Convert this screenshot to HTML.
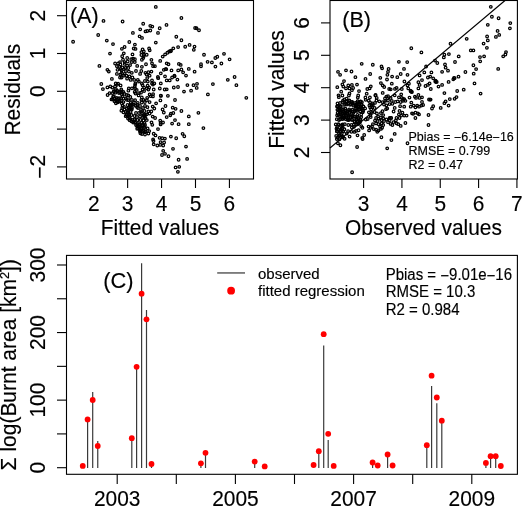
<!DOCTYPE html>
<html><head><meta charset="utf-8"><style>
html,body{margin:0;padding:0;background:#fff;}
svg{display:block;will-change:transform;}
text{font-family:"Liberation Sans", sans-serif;stroke:#000;stroke-width:0.15px;}
</style></head><body>
<svg width="522" height="507" viewBox="0 0 522 507">
<rect width="522" height="507" fill="#fff"/>
<rect x="66.5" y="0.5" width="187.0" height="178.5" fill="none" stroke="#000" stroke-width="1.1"/>
<line x1="93.7" y1="179.0" x2="93.7" y2="188" stroke="#000" stroke-width="1.1"/>
<text x="0" y="0" font-size="20.9" text-anchor="middle" fill="#000" transform="translate(93.7 211) scale(1 1.04)">2</text>
<line x1="127.63" y1="179.0" x2="127.63" y2="188" stroke="#000" stroke-width="1.1"/>
<text x="0" y="0" font-size="20.9" text-anchor="middle" fill="#000" transform="translate(127.63 211) scale(1 1.04)">3</text>
<line x1="161.56" y1="179.0" x2="161.56" y2="188" stroke="#000" stroke-width="1.1"/>
<text x="0" y="0" font-size="20.9" text-anchor="middle" fill="#000" transform="translate(161.56 211) scale(1 1.04)">4</text>
<line x1="195.49" y1="179.0" x2="195.49" y2="188" stroke="#000" stroke-width="1.1"/>
<text x="0" y="0" font-size="20.9" text-anchor="middle" fill="#000" transform="translate(195.49 211) scale(1 1.04)">5</text>
<line x1="229.42" y1="179.0" x2="229.42" y2="188" stroke="#000" stroke-width="1.1"/>
<text x="0" y="0" font-size="20.9" text-anchor="middle" fill="#000" transform="translate(229.42 211) scale(1 1.04)">6</text>
<line x1="57" y1="166.9" x2="66.5" y2="166.9" stroke="#000" stroke-width="1.1"/>
<text x="0" y="0" font-size="20.9" text-anchor="middle" fill="#000" transform="translate(45 166.9) rotate(-90) scale(1 1.04)"><tspan dy="1.57">&#8722;</tspan><tspan dy="-1.57">2</tspan></text>
<line x1="57" y1="129.1" x2="66.5" y2="129.1" stroke="#000" stroke-width="1.1"/>
<line x1="57" y1="91.3" x2="66.5" y2="91.3" stroke="#000" stroke-width="1.1"/>
<text x="0" y="0" font-size="20.9" text-anchor="middle" fill="#000" transform="translate(45 91.3) rotate(-90) scale(1 1.04)">0</text>
<line x1="57" y1="53.5" x2="66.5" y2="53.5" stroke="#000" stroke-width="1.1"/>
<text x="0" y="0" font-size="20.9" text-anchor="middle" fill="#000" transform="translate(45 53.5) rotate(-90) scale(1 1.04)">1</text>
<line x1="57" y1="15.7" x2="66.5" y2="15.7" stroke="#000" stroke-width="1.1"/>
<text x="0" y="0" font-size="20.9" text-anchor="middle" fill="#000" transform="translate(45 15.7) rotate(-90) scale(1 1.04)">2</text>
<text x="0" y="0" font-size="20.9" text-anchor="middle" fill="#000" transform="translate(160 235) scale(1 1.04)">Fitted values</text>
<text x="0" y="0" font-size="20.9" text-anchor="middle" fill="#000" transform="translate(20.1 89.7) rotate(-90) scale(1 1.04)">Residuals</text>
<text x="0" y="0" font-size="21.6" text-anchor="start" fill="#000" transform="translate(69.9 23) scale(1 1.04)">(A)</text>
<rect x="330.0" y="0.5" width="187.39999999999998" height="178.5" fill="none" stroke="#000" stroke-width="1.1"/>
<line x1="363.6" y1="179.0" x2="363.6" y2="188" stroke="#000" stroke-width="1.1"/>
<text x="0" y="0" font-size="20.9" text-anchor="middle" fill="#000" transform="translate(363.6 211) scale(1 1.04)">3</text>
<line x1="401.93" y1="179.0" x2="401.93" y2="188" stroke="#000" stroke-width="1.1"/>
<text x="0" y="0" font-size="20.9" text-anchor="middle" fill="#000" transform="translate(401.93 211) scale(1 1.04)">4</text>
<line x1="440.26" y1="179.0" x2="440.26" y2="188" stroke="#000" stroke-width="1.1"/>
<text x="0" y="0" font-size="20.9" text-anchor="middle" fill="#000" transform="translate(440.26 211) scale(1 1.04)">5</text>
<line x1="478.59" y1="179.0" x2="478.59" y2="188" stroke="#000" stroke-width="1.1"/>
<text x="0" y="0" font-size="20.9" text-anchor="middle" fill="#000" transform="translate(478.59 211) scale(1 1.04)">6</text>
<line x1="516.92" y1="179.0" x2="516.92" y2="188" stroke="#000" stroke-width="1.1"/>
<text x="0" y="0" font-size="20.9" text-anchor="middle" fill="#000" transform="translate(516.92 211) scale(1 1.04)">7</text>
<line x1="321" y1="152.5" x2="330.0" y2="152.5" stroke="#000" stroke-width="1.1"/>
<text x="0" y="0" font-size="20.9" text-anchor="middle" fill="#000" transform="translate(309 152.5) rotate(-90) scale(1 1.04)">2</text>
<line x1="321" y1="120.1" x2="330.0" y2="120.1" stroke="#000" stroke-width="1.1"/>
<text x="0" y="0" font-size="20.9" text-anchor="middle" fill="#000" transform="translate(309 120.1) rotate(-90) scale(1 1.04)">3</text>
<line x1="321" y1="87.7" x2="330.0" y2="87.7" stroke="#000" stroke-width="1.1"/>
<text x="0" y="0" font-size="20.9" text-anchor="middle" fill="#000" transform="translate(309 87.7) rotate(-90) scale(1 1.04)">4</text>
<line x1="321" y1="55.3" x2="330.0" y2="55.3" stroke="#000" stroke-width="1.1"/>
<text x="0" y="0" font-size="20.9" text-anchor="middle" fill="#000" transform="translate(309 55.3) rotate(-90) scale(1 1.04)">5</text>
<line x1="321" y1="22.9" x2="330.0" y2="22.9" stroke="#000" stroke-width="1.1"/>
<text x="0" y="0" font-size="20.9" text-anchor="middle" fill="#000" transform="translate(309 22.9) rotate(-90) scale(1 1.04)">6</text>
<text x="0" y="0" font-size="20.9" text-anchor="middle" fill="#000" transform="translate(423.5 235) scale(1 1.04)">Observed values</text>
<text x="0" y="0" font-size="20.9" text-anchor="middle" fill="#000" transform="translate(283.8 89.5) rotate(-90) scale(1 1.04)">Fitted values</text>
<text x="0" y="0" font-size="21.6" text-anchor="start" fill="#000" transform="translate(342.2 27.4) scale(1 1.05)">(B)</text>
<line x1="330" y1="148" x2="505" y2="0.5" stroke="#000" stroke-width="1.1"/>
<text x="0" y="0" font-size="12.5" text-anchor="start" fill="#000" transform="translate(408.5 140.6) scale(1 1.04)">Pbias = <tspan dy="0.94">&#8722;</tspan><tspan dy="-0.94">6.14e</tspan><tspan dy="0.94">&#8722;</tspan><tspan dy="-0.94">16</tspan></text>
<text x="0" y="0" font-size="12.5" text-anchor="start" fill="#000" transform="translate(408.5 154.6) scale(1 1.04)">RMSE = 0.799</text>
<text x="0" y="0" font-size="12.5" text-anchor="start" fill="#000" transform="translate(408.5 169) scale(1 1.04)">R2 = 0.47</text>
<rect x="66.5" y="255.4" width="450.9" height="218.9" fill="none" stroke="#000" stroke-width="1.1"/>
<line x1="117.2" y1="474.3" x2="117.2" y2="484" stroke="#000" stroke-width="1.1"/>
<text x="0" y="0" font-size="20.9" text-anchor="middle" fill="#000" transform="translate(117.2 506.4) scale(1 1.04)">2003</text>
<line x1="176.3" y1="474.3" x2="176.3" y2="484" stroke="#000" stroke-width="1.1"/>
<line x1="235.4" y1="474.3" x2="235.4" y2="484" stroke="#000" stroke-width="1.1"/>
<text x="0" y="0" font-size="20.9" text-anchor="middle" fill="#000" transform="translate(235.4 506.4) scale(1 1.04)">2005</text>
<line x1="294.5" y1="474.3" x2="294.5" y2="484" stroke="#000" stroke-width="1.1"/>
<line x1="353.6" y1="474.3" x2="353.6" y2="484" stroke="#000" stroke-width="1.1"/>
<text x="0" y="0" font-size="20.9" text-anchor="middle" fill="#000" transform="translate(353.6 506.4) scale(1 1.04)">2007</text>
<line x1="412.7" y1="474.3" x2="412.7" y2="484" stroke="#000" stroke-width="1.1"/>
<line x1="471.8" y1="474.3" x2="471.8" y2="484" stroke="#000" stroke-width="1.1"/>
<text x="0" y="0" font-size="20.9" text-anchor="middle" fill="#000" transform="translate(471.8 506.4) scale(1 1.04)">2009</text>
<line x1="57" y1="467.7" x2="66.5" y2="467.7" stroke="#000" stroke-width="1.1"/>
<text x="0" y="0" font-size="20.9" text-anchor="middle" fill="#000" transform="translate(45 467.7) rotate(-90) scale(1 1.04)">0</text>
<line x1="57" y1="433.91" x2="66.5" y2="433.91" stroke="#000" stroke-width="1.1"/>
<line x1="57" y1="400.13" x2="66.5" y2="400.13" stroke="#000" stroke-width="1.1"/>
<text x="0" y="0" font-size="20.9" text-anchor="middle" fill="#000" transform="translate(45 400.13) rotate(-90) scale(1 1.04)">100</text>
<line x1="57" y1="366.35" x2="66.5" y2="366.35" stroke="#000" stroke-width="1.1"/>
<line x1="57" y1="332.56" x2="66.5" y2="332.56" stroke="#000" stroke-width="1.1"/>
<text x="0" y="0" font-size="20.9" text-anchor="middle" fill="#000" transform="translate(45 332.56) rotate(-90) scale(1 1.04)">200</text>
<line x1="57" y1="298.77" x2="66.5" y2="298.77" stroke="#000" stroke-width="1.1"/>
<line x1="57" y1="264.99" x2="66.5" y2="264.99" stroke="#000" stroke-width="1.1"/>
<text x="0" y="0" font-size="20.9" text-anchor="middle" fill="#000" transform="translate(45 264.99) rotate(-90) scale(1 1.04)">300</text>
<line x1="87.6" y1="468" x2="87.6" y2="421" stroke="#3a3a3a" stroke-width="1.2"/>
<line x1="92.7" y1="468" x2="92.7" y2="392.1" stroke="#3a3a3a" stroke-width="1.2"/>
<line x1="97.75" y1="468" x2="97.75" y2="441" stroke="#3a3a3a" stroke-width="1.2"/>
<line x1="131.8" y1="468" x2="131.8" y2="439" stroke="#3a3a3a" stroke-width="1.2"/>
<line x1="136.6" y1="468" x2="136.6" y2="368" stroke="#3a3a3a" stroke-width="1.2"/>
<line x1="141.6" y1="468" x2="141.6" y2="263.3" stroke="#3a3a3a" stroke-width="1.2"/>
<line x1="146.5" y1="468" x2="146.5" y2="310" stroke="#3a3a3a" stroke-width="1.2"/>
<line x1="151.5" y1="468" x2="151.5" y2="465" stroke="#3a3a3a" stroke-width="1.2"/>
<line x1="200.9" y1="468" x2="200.9" y2="463" stroke="#3a3a3a" stroke-width="1.2"/>
<line x1="205.5" y1="468" x2="205.5" y2="453" stroke="#3a3a3a" stroke-width="1.2"/>
<line x1="254.7" y1="468" x2="254.7" y2="462" stroke="#3a3a3a" stroke-width="1.2"/>
<line x1="318.8" y1="468" x2="318.8" y2="451" stroke="#3a3a3a" stroke-width="1.2"/>
<line x1="323.7" y1="468" x2="323.7" y2="345.4" stroke="#3a3a3a" stroke-width="1.2"/>
<line x1="328.2" y1="468" x2="328.2" y2="440" stroke="#3a3a3a" stroke-width="1.2"/>
<line x1="372.6" y1="468" x2="372.6" y2="463" stroke="#3a3a3a" stroke-width="1.2"/>
<line x1="387.6" y1="468" x2="387.6" y2="455" stroke="#3a3a3a" stroke-width="1.2"/>
<line x1="426.8" y1="468" x2="426.8" y2="445" stroke="#3a3a3a" stroke-width="1.2"/>
<line x1="431.6" y1="468" x2="431.6" y2="386" stroke="#3a3a3a" stroke-width="1.2"/>
<line x1="436.8" y1="468" x2="436.8" y2="403.2" stroke="#3a3a3a" stroke-width="1.2"/>
<line x1="441.8" y1="468" x2="441.8" y2="421" stroke="#3a3a3a" stroke-width="1.2"/>
<line x1="485.9" y1="468" x2="485.9" y2="463" stroke="#3a3a3a" stroke-width="1.2"/>
<line x1="490.6" y1="468" x2="490.6" y2="456" stroke="#3a3a3a" stroke-width="1.2"/>
<line x1="495.7" y1="468" x2="495.7" y2="456" stroke="#3a3a3a" stroke-width="1.2"/>
<circle cx="82.75" cy="465.9" r="2.9" fill="#f00"/>
<circle cx="87.6" cy="419.4" r="2.9" fill="#f00"/>
<circle cx="92.7" cy="400" r="2.9" fill="#f00"/>
<circle cx="97.75" cy="446" r="2.9" fill="#f00"/>
<circle cx="131.8" cy="438.2" r="2.9" fill="#f00"/>
<circle cx="136.6" cy="366.8" r="2.9" fill="#f00"/>
<circle cx="141.6" cy="293.7" r="2.9" fill="#f00"/>
<circle cx="146.5" cy="319.3" r="2.9" fill="#f00"/>
<circle cx="151.5" cy="464" r="2.9" fill="#f00"/>
<circle cx="200.9" cy="463.3" r="2.9" fill="#f00"/>
<circle cx="205.5" cy="452.8" r="2.9" fill="#f00"/>
<circle cx="254.7" cy="461.6" r="2.9" fill="#f00"/>
<circle cx="264.7" cy="466.4" r="2.9" fill="#f00"/>
<circle cx="313.6" cy="465" r="2.9" fill="#f00"/>
<circle cx="318.8" cy="451.2" r="2.9" fill="#f00"/>
<circle cx="323.7" cy="334.2" r="2.9" fill="#f00"/>
<circle cx="328.2" cy="433.8" r="2.9" fill="#f00"/>
<circle cx="333.7" cy="465.9" r="2.9" fill="#f00"/>
<circle cx="372.6" cy="462.5" r="2.9" fill="#f00"/>
<circle cx="377.7" cy="465.5" r="2.9" fill="#f00"/>
<circle cx="387.6" cy="454.5" r="2.9" fill="#f00"/>
<circle cx="392.6" cy="465.5" r="2.9" fill="#f00"/>
<circle cx="426.8" cy="445.2" r="2.9" fill="#f00"/>
<circle cx="431.6" cy="375.7" r="2.9" fill="#f00"/>
<circle cx="436.8" cy="397.5" r="2.9" fill="#f00"/>
<circle cx="441.8" cy="420.7" r="2.9" fill="#f00"/>
<circle cx="485.9" cy="462.9" r="2.9" fill="#f00"/>
<circle cx="490.6" cy="456.2" r="2.9" fill="#f00"/>
<circle cx="495.7" cy="456.2" r="2.9" fill="#f00"/>
<circle cx="500.8" cy="466" r="2.9" fill="#f00"/>
<line x1="217.2" y1="272.95" x2="245" y2="272.95" stroke="#333" stroke-width="1.2"/>
<circle cx="231.1" cy="290.7" r="3.9" fill="#f00"/>
<text x="0" y="0" font-size="15" text-anchor="start" fill="#000" transform="translate(258 279) scale(1 1.0)">observed</text>
<text x="0" y="0" font-size="15" text-anchor="start" fill="#000" transform="translate(258 296.3) scale(1 1.0)">fitted regression</text>
<text x="0" y="0" font-size="15" text-anchor="start" fill="#000" transform="translate(385.7 280.2) scale(1 1.04)">Pbias = <tspan dy="1.12">&#8722;</tspan><tspan dy="-1.12">9.01e</tspan><tspan dy="1.12">&#8722;</tspan><tspan dy="-1.12">16</tspan></text>
<text x="0" y="0" font-size="15" text-anchor="start" fill="#000" transform="translate(385.7 297.2) scale(1 1.04)">RMSE = 10.3</text>
<text x="0" y="0" font-size="15" text-anchor="start" fill="#000" transform="translate(385.7 314.6) scale(1 1.04)">R2 = 0.984</text>
<text x="0" y="0" font-size="21.8" text-anchor="start" fill="#000" transform="translate(103.2 288) scale(1 1.05)">(C)</text>
<text x="0" y="0" font-size="21" text-anchor="middle" fill="#000" transform="translate(15.5 364.75) rotate(-90) scale(1 1.04)">&#931; log(Burnt area [km<tspan font-size="12.8" dy="-6">2</tspan><tspan dy="6">])</tspan></text>
<g fill="none" stroke="#000" stroke-width="1.25"><circle cx="177.9" cy="171.8" r="1.3"/><circle cx="103.5" cy="20.9" r="1.3"/><circle cx="122.6" cy="21.5" r="1.3"/><circle cx="98.2" cy="35.0" r="1.3"/><circle cx="73.1" cy="41.7" r="1.3"/><circle cx="106.8" cy="40.6" r="1.3"/><circle cx="113.0" cy="44.1" r="1.3"/><circle cx="110.0" cy="53.6" r="1.3"/><circle cx="121.9" cy="48.8" r="1.3"/><circle cx="124.6" cy="47.0" r="1.3"/><circle cx="123.8" cy="53.3" r="1.3"/><circle cx="122.2" cy="56.2" r="1.3"/><circle cx="155.8" cy="6.9" r="1.3"/><circle cx="181.4" cy="18.0" r="1.3"/><circle cx="143.2" cy="23.7" r="1.3"/><circle cx="150.3" cy="25.8" r="1.3"/><circle cx="152.3" cy="26.6" r="1.3"/><circle cx="159.7" cy="28.2" r="1.3"/><circle cx="166.5" cy="24.9" r="1.3"/><circle cx="140.2" cy="29.3" r="1.3"/><circle cx="132.9" cy="32.9" r="1.3"/><circle cx="145.5" cy="31.4" r="1.3"/><circle cx="147.3" cy="31.0" r="1.3"/><circle cx="150.3" cy="30.5" r="1.3"/><circle cx="158.0" cy="32.9" r="1.3"/><circle cx="139.6" cy="36.3" r="1.3"/><circle cx="142.0" cy="37.9" r="1.3"/><circle cx="176.3" cy="36.7" r="1.3"/><circle cx="181.4" cy="40.2" r="1.3"/><circle cx="129.3" cy="42.0" r="1.3"/><circle cx="134.9" cy="44.6" r="1.3"/><circle cx="155.8" cy="42.6" r="1.3"/><circle cx="133.7" cy="48.5" r="1.3"/><circle cx="135.5" cy="48.9" r="1.3"/><circle cx="142.6" cy="49.5" r="1.3"/><circle cx="143.8" cy="51.5" r="1.3"/><circle cx="141.4" cy="52.1" r="1.3"/><circle cx="149.1" cy="48.5" r="1.3"/><circle cx="149.7" cy="50.3" r="1.3"/><circle cx="132.5" cy="54.4" r="1.3"/><circle cx="141.4" cy="55.0" r="1.3"/><circle cx="143.8" cy="54.7" r="1.3"/><circle cx="146.7" cy="54.7" r="1.3"/><circle cx="143.2" cy="58.0" r="1.3"/><circle cx="173.3" cy="48.3" r="1.3"/><circle cx="171.0" cy="50.7" r="1.3"/><circle cx="169.2" cy="51.5" r="1.3"/><circle cx="167.4" cy="52.7" r="1.3"/><circle cx="165.1" cy="54.4" r="1.3"/><circle cx="162.7" cy="56.6" r="1.3"/><circle cx="178.1" cy="47.1" r="1.3"/><circle cx="185.2" cy="46.7" r="1.3"/><circle cx="127.2" cy="58.0" r="1.3"/><circle cx="133.1" cy="58.6" r="1.3"/><circle cx="134.9" cy="59.2" r="1.3"/><circle cx="151.4" cy="59.8" r="1.3"/><circle cx="195.1" cy="28.0" r="1.3"/><circle cx="199.0" cy="30.2" r="1.3"/><circle cx="189.6" cy="44.9" r="1.3"/><circle cx="194.5" cy="46.6" r="1.3"/><circle cx="193.8" cy="49.8" r="1.3"/><circle cx="204.0" cy="54.7" r="1.3"/><circle cx="215.3" cy="58.0" r="1.3"/><circle cx="217.3" cy="56.7" r="1.3"/><circle cx="224.0" cy="53.8" r="1.3"/><circle cx="229.6" cy="59.3" r="1.3"/><circle cx="99.4" cy="65.9" r="1.3"/><circle cx="107.4" cy="69.8" r="1.3"/><circle cx="108.8" cy="71.6" r="1.3"/><circle cx="111.9" cy="78.9" r="1.3"/><circle cx="101.3" cy="84.0" r="1.3"/><circle cx="102.9" cy="89.1" r="1.3"/><circle cx="115.7" cy="83.4" r="1.3"/><circle cx="118.1" cy="83.6" r="1.3"/><circle cx="115.1" cy="63.5" r="1.3"/><circle cx="118.1" cy="63.5" r="1.3"/><circle cx="120.4" cy="64.5" r="1.3"/><circle cx="116.9" cy="66.2" r="1.3"/><circle cx="119.3" cy="66.8" r="1.3"/><circle cx="117.5" cy="69.8" r="1.3"/><circle cx="121.6" cy="70.4" r="1.3"/><circle cx="124.0" cy="69.2" r="1.3"/><circle cx="124.6" cy="62.1" r="1.3"/><circle cx="116.9" cy="73.9" r="1.3"/><circle cx="120.4" cy="74.5" r="1.3"/><circle cx="121.6" cy="77.5" r="1.3"/><circle cx="124.0" cy="75.7" r="1.3"/><circle cx="143.7" cy="56.2" r="1.3"/><circle cx="123.0" cy="59.7" r="1.3"/><circle cx="127.7" cy="61.5" r="1.3"/><circle cx="131.2" cy="59.1" r="1.3"/><circle cx="134.8" cy="62.1" r="1.3"/><circle cx="131.8" cy="62.1" r="1.3"/><circle cx="141.9" cy="59.7" r="1.3"/><circle cx="160.2" cy="60.9" r="1.3"/><circle cx="166.7" cy="63.3" r="1.3"/><circle cx="168.5" cy="64.2" r="1.3"/><circle cx="178.9" cy="63.9" r="1.3"/><circle cx="152.0" cy="63.3" r="1.3"/><circle cx="153.1" cy="66.2" r="1.3"/><circle cx="154.9" cy="66.2" r="1.3"/><circle cx="146.0" cy="64.2" r="1.3"/><circle cx="141.9" cy="66.8" r="1.3"/><circle cx="137.2" cy="65.9" r="1.3"/><circle cx="120.0" cy="62.1" r="1.3"/><circle cx="124.7" cy="63.9" r="1.3"/><circle cx="127.1" cy="65.7" r="1.3"/><circle cx="130.1" cy="65.1" r="1.3"/><circle cx="128.3" cy="68.0" r="1.3"/><circle cx="125.3" cy="68.0" r="1.3"/><circle cx="122.4" cy="67.4" r="1.3"/><circle cx="120.6" cy="69.2" r="1.3"/><circle cx="125.9" cy="71.0" r="1.3"/><circle cx="128.9" cy="71.6" r="1.3"/><circle cx="131.8" cy="72.8" r="1.3"/><circle cx="124.7" cy="73.9" r="1.3"/><circle cx="121.8" cy="73.3" r="1.3"/><circle cx="136.0" cy="71.0" r="1.3"/><circle cx="141.3" cy="71.0" r="1.3"/><circle cx="145.4" cy="72.8" r="1.3"/><circle cx="148.4" cy="72.2" r="1.3"/><circle cx="151.4" cy="71.6" r="1.3"/><circle cx="146.6" cy="74.5" r="1.3"/><circle cx="149.6" cy="75.7" r="1.3"/><circle cx="140.1" cy="73.9" r="1.3"/><circle cx="160.8" cy="73.3" r="1.3"/><circle cx="163.8" cy="69.8" r="1.3"/><circle cx="166.2" cy="69.2" r="1.3"/><circle cx="171.5" cy="70.4" r="1.3"/><circle cx="178.2" cy="70.4" r="1.3"/><circle cx="172.1" cy="77.5" r="1.3"/><circle cx="174.4" cy="75.7" r="1.3"/><circle cx="165.0" cy="76.3" r="1.3"/><circle cx="157.9" cy="76.9" r="1.3"/><circle cx="126.5" cy="75.7" r="1.3"/><circle cx="129.5" cy="76.3" r="1.3"/><circle cx="132.4" cy="77.5" r="1.3"/><circle cx="120.0" cy="77.5" r="1.3"/><circle cx="127.1" cy="78.7" r="1.3"/><circle cx="130.7" cy="79.9" r="1.3"/><circle cx="134.2" cy="79.9" r="1.3"/><circle cx="137.8" cy="79.9" r="1.3"/><circle cx="138.9" cy="81.6" r="1.3"/><circle cx="147.2" cy="78.1" r="1.3"/><circle cx="152.0" cy="80.4" r="1.3"/><circle cx="154.3" cy="83.4" r="1.3"/><circle cx="152.0" cy="83.4" r="1.3"/><circle cx="144.9" cy="81.0" r="1.3"/><circle cx="147.8" cy="81.6" r="1.3"/><circle cx="166.7" cy="80.4" r="1.3"/><circle cx="169.7" cy="80.4" r="1.3"/><circle cx="177.4" cy="79.6" r="1.3"/><circle cx="135.4" cy="83.4" r="1.3"/><circle cx="141.9" cy="83.4" r="1.3"/><circle cx="160.8" cy="83.4" r="1.3"/><circle cx="166.7" cy="89.3" r="1.3"/><circle cx="173.8" cy="87.5" r="1.3"/><circle cx="178.0" cy="87.0" r="1.3"/><circle cx="167.9" cy="95.8" r="1.3"/><circle cx="175.0" cy="100.0" r="1.3"/><circle cx="172.7" cy="107.7" r="1.3"/><circle cx="175.6" cy="108.8" r="1.3"/><circle cx="170.9" cy="113.6" r="1.3"/><circle cx="173.3" cy="113.0" r="1.3"/><circle cx="207.6" cy="61.8" r="1.3"/><circle cx="211.9" cy="62.4" r="1.3"/><circle cx="221.4" cy="63.5" r="1.3"/><circle cx="201.0" cy="64.2" r="1.3"/><circle cx="201.0" cy="66.3" r="1.3"/><circle cx="215.4" cy="66.6" r="1.3"/><circle cx="180.7" cy="64.9" r="1.3"/><circle cx="181.4" cy="69.5" r="1.3"/><circle cx="183.1" cy="72.3" r="1.3"/><circle cx="188.8" cy="68.9" r="1.3"/><circle cx="194.6" cy="71.7" r="1.3"/><circle cx="186.0" cy="75.6" r="1.3"/><circle cx="234.6" cy="77.0" r="1.3"/><circle cx="227.8" cy="79.8" r="1.3"/><circle cx="236.4" cy="85.2" r="1.3"/><circle cx="212.9" cy="84.1" r="1.3"/><circle cx="187.4" cy="85.1" r="1.3"/><circle cx="193.5" cy="85.2" r="1.3"/><circle cx="197.0" cy="83.8" r="1.3"/><circle cx="196.7" cy="87.9" r="1.3"/><circle cx="184.0" cy="91.6" r="1.3"/><circle cx="191.1" cy="90.7" r="1.3"/><circle cx="207.9" cy="94.4" r="1.3"/><circle cx="246.3" cy="97.8" r="1.3"/><circle cx="181.4" cy="111.0" r="1.3"/><circle cx="198.4" cy="112.8" r="1.3"/><circle cx="166.7" cy="117.1" r="1.3"/><circle cx="170.3" cy="115.3" r="1.3"/><circle cx="175.0" cy="120.1" r="1.3"/><circle cx="172.1" cy="123.6" r="1.3"/><circle cx="178.6" cy="124.2" r="1.3"/><circle cx="153.7" cy="144.3" r="1.3"/><circle cx="157.3" cy="145.5" r="1.3"/><circle cx="160.2" cy="144.9" r="1.3"/><circle cx="163.2" cy="145.5" r="1.3"/><circle cx="170.9" cy="136.6" r="1.3"/><circle cx="176.2" cy="138.2" r="1.3"/><circle cx="173.0" cy="148.8" r="1.3"/><circle cx="163.2" cy="150.8" r="1.3"/><circle cx="162.0" cy="155.0" r="1.3"/><circle cx="165.0" cy="153.8" r="1.3"/><circle cx="168.5" cy="156.2" r="1.3"/><circle cx="178.6" cy="159.7" r="1.3"/><circle cx="175.6" cy="167.4" r="1.3"/><circle cx="179.2" cy="166.8" r="1.3"/><circle cx="188.8" cy="116.4" r="1.3"/><circle cx="188.8" cy="124.2" r="1.3"/><circle cx="203.4" cy="128.1" r="1.3"/><circle cx="182.6" cy="133.8" r="1.3"/><circle cx="184.3" cy="136.2" r="1.3"/><circle cx="186.0" cy="146.6" r="1.3"/><circle cx="187.1" cy="158.9" r="1.3"/><circle cx="107.4" cy="87.4" r="1.3"/><circle cx="110.3" cy="86.4" r="1.3"/><circle cx="112.3" cy="87.6" r="1.3"/><circle cx="115.1" cy="86.4" r="1.3"/><circle cx="117.0" cy="84.8" r="1.3"/><circle cx="120.6" cy="85.4" r="1.3"/><circle cx="115.9" cy="89.1" r="1.3"/><circle cx="113.9" cy="91.1" r="1.3"/><circle cx="117.4" cy="91.1" r="1.3"/><circle cx="121.0" cy="91.1" r="1.3"/><circle cx="123.4" cy="91.9" r="1.3"/><circle cx="109.6" cy="93.1" r="1.3"/><circle cx="112.3" cy="93.1" r="1.3"/><circle cx="115.5" cy="92.7" r="1.3"/><circle cx="119.0" cy="93.1" r="1.3"/><circle cx="121.8" cy="94.3" r="1.3"/><circle cx="124.5" cy="93.9" r="1.3"/><circle cx="107.6" cy="95.0" r="1.3"/><circle cx="113.9" cy="96.2" r="1.3"/><circle cx="122.6" cy="96.2" r="1.3"/><circle cx="111.5" cy="99.4" r="1.3"/><circle cx="114.7" cy="98.6" r="1.3"/><circle cx="116.7" cy="97.8" r="1.3"/><circle cx="119.0" cy="98.2" r="1.3"/><circle cx="123.4" cy="98.6" r="1.3"/><circle cx="115.1" cy="101.4" r="1.3"/><circle cx="117.4" cy="101.4" r="1.3"/><circle cx="121.0" cy="101.0" r="1.3"/><circle cx="115.9" cy="103.3" r="1.3"/><circle cx="121.8" cy="103.3" r="1.3"/><circle cx="135.1" cy="84.8" r="1.3"/><circle cx="134.7" cy="86.8" r="1.3"/><circle cx="128.8" cy="88.3" r="1.3"/><circle cx="131.9" cy="88.3" r="1.3"/><circle cx="135.1" cy="88.7" r="1.3"/><circle cx="136.7" cy="89.9" r="1.3"/><circle cx="128.4" cy="90.7" r="1.3"/><circle cx="142.6" cy="85.2" r="1.3"/><circle cx="144.1" cy="87.6" r="1.3"/><circle cx="142.6" cy="89.5" r="1.3"/><circle cx="144.1" cy="91.1" r="1.3"/><circle cx="135.5" cy="93.5" r="1.3"/><circle cx="134.7" cy="91.9" r="1.3"/><circle cx="139.0" cy="93.1" r="1.3"/><circle cx="141.0" cy="92.7" r="1.3"/><circle cx="138.6" cy="95.4" r="1.3"/><circle cx="128.4" cy="95.4" r="1.3"/><circle cx="126.8" cy="95.0" r="1.3"/><circle cx="130.3" cy="97.0" r="1.3"/><circle cx="141.8" cy="97.4" r="1.3"/><circle cx="128.4" cy="100.2" r="1.3"/><circle cx="131.9" cy="99.8" r="1.3"/><circle cx="135.1" cy="100.2" r="1.3"/><circle cx="141.4" cy="99.8" r="1.3"/><circle cx="143.4" cy="99.8" r="1.3"/><circle cx="130.7" cy="102.9" r="1.3"/><circle cx="133.9" cy="102.5" r="1.3"/><circle cx="137.8" cy="102.9" r="1.3"/><circle cx="141.8" cy="102.5" r="1.3"/><circle cx="144.9" cy="102.1" r="1.3"/><circle cx="126.8" cy="99.8" r="1.3"/><circle cx="122.6" cy="105.6" r="1.3"/><circle cx="122.2" cy="107.9" r="1.3"/><circle cx="124.5" cy="109.5" r="1.3"/><circle cx="121.4" cy="110.7" r="1.3"/><circle cx="123.4" cy="112.3" r="1.3"/><circle cx="125.7" cy="111.9" r="1.3"/><circle cx="125.7" cy="116.2" r="1.3"/><circle cx="127.5" cy="105.0" r="1.3"/><circle cx="130.5" cy="105.5" r="1.3"/><circle cx="127.0" cy="108.5" r="1.3"/><circle cx="130.0" cy="108.5" r="1.3"/><circle cx="132.0" cy="108.0" r="1.3"/><circle cx="127.5" cy="112.0" r="1.3"/><circle cx="128.5" cy="114.5" r="1.3"/><circle cx="131.5" cy="115.0" r="1.3"/><circle cx="136.0" cy="113.0" r="1.3"/><circle cx="139.0" cy="113.0" r="1.3"/><circle cx="138.0" cy="108.0" r="1.3"/><circle cx="137.5" cy="105.0" r="1.3"/><circle cx="140.0" cy="106.0" r="1.3"/><circle cx="141.0" cy="110.0" r="1.3"/><circle cx="143.0" cy="108.0" r="1.3"/><circle cx="145.0" cy="106.0" r="1.3"/><circle cx="144.5" cy="111.0" r="1.3"/><circle cx="142.0" cy="113.5" r="1.3"/><circle cx="145.0" cy="114.5" r="1.3"/><circle cx="134.5" cy="116.0" r="1.3"/><circle cx="137.0" cy="117.0" r="1.3"/><circle cx="140.0" cy="116.5" r="1.3"/><circle cx="143.0" cy="117.0" r="1.3"/><circle cx="145.5" cy="118.0" r="1.3"/><circle cx="134.5" cy="119.5" r="1.3"/><circle cx="137.5" cy="120.0" r="1.3"/><circle cx="140.5" cy="120.0" r="1.3"/><circle cx="143.5" cy="120.5" r="1.3"/><circle cx="135.0" cy="122.5" r="1.3"/><circle cx="138.0" cy="123.0" r="1.3"/><circle cx="141.5" cy="123.0" r="1.3"/><circle cx="144.5" cy="123.0" r="1.3"/><circle cx="147.6" cy="85.6" r="1.3"/><circle cx="149.2" cy="87.6" r="1.3"/><circle cx="148.4" cy="89.5" r="1.3"/><circle cx="146.8" cy="88.3" r="1.3"/><circle cx="152.9" cy="84.6" r="1.3"/><circle cx="153.7" cy="89.5" r="1.3"/><circle cx="159.8" cy="88.5" r="1.3"/><circle cx="164.7" cy="89.5" r="1.3"/><circle cx="149.6" cy="94.5" r="1.3"/><circle cx="153.1" cy="94.1" r="1.3"/><circle cx="150.7" cy="96.2" r="1.3"/><circle cx="152.9" cy="96.4" r="1.3"/><circle cx="160.8" cy="95.6" r="1.3"/><circle cx="147.2" cy="97.8" r="1.3"/><circle cx="146.8" cy="100.2" r="1.3"/><circle cx="149.6" cy="102.1" r="1.3"/><circle cx="160.4" cy="100.4" r="1.3"/><circle cx="156.1" cy="103.3" r="1.3"/><circle cx="147.4" cy="107.2" r="1.3"/><circle cx="152.7" cy="106.6" r="1.3"/><circle cx="154.3" cy="108.5" r="1.3"/><circle cx="148.4" cy="111.3" r="1.3"/><circle cx="151.3" cy="111.5" r="1.3"/><circle cx="149.6" cy="113.5" r="1.3"/><circle cx="146.8" cy="114.3" r="1.3"/><circle cx="152.7" cy="116.6" r="1.3"/><circle cx="155.1" cy="118.0" r="1.3"/><circle cx="162.6" cy="109.5" r="1.3"/><circle cx="163.8" cy="112.5" r="1.3"/><circle cx="165.5" cy="106.0" r="1.3"/><circle cx="151.5" cy="122.3" r="1.3"/><circle cx="160.2" cy="120.6" r="1.3"/><circle cx="163.0" cy="122.5" r="1.3"/><circle cx="160.6" cy="122.9" r="1.3"/><circle cx="136.0" cy="125.0" r="1.3"/><circle cx="139.0" cy="125.0" r="1.3"/><circle cx="142.0" cy="125.0" r="1.3"/><circle cx="145.0" cy="125.0" r="1.3"/><circle cx="138.0" cy="128.0" r="1.3"/><circle cx="141.0" cy="128.5" r="1.3"/><circle cx="144.0" cy="128.0" r="1.3"/><circle cx="140.0" cy="131.5" r="1.3"/><circle cx="143.0" cy="131.0" r="1.3"/><circle cx="145.5" cy="131.5" r="1.3"/><circle cx="142.0" cy="134.0" r="1.3"/><circle cx="145.0" cy="134.5" r="1.3"/><circle cx="152.3" cy="124.8" r="1.3"/><circle cx="160.6" cy="124.4" r="1.3"/><circle cx="147.6" cy="128.3" r="1.3"/><circle cx="149.2" cy="131.1" r="1.3"/><circle cx="148.4" cy="133.5" r="1.3"/><circle cx="158.0" cy="129.1" r="1.3"/><circle cx="153.7" cy="133.7" r="1.3"/><circle cx="155.5" cy="135.4" r="1.3"/><circle cx="159.6" cy="137.8" r="1.3"/><circle cx="162.2" cy="138.2" r="1.3"/><circle cx="164.9" cy="138.6" r="1.3"/><circle cx="153.1" cy="139.4" r="1.3"/><circle cx="153.5" cy="141.0" r="1.3"/><circle cx="160.6" cy="142.1" r="1.3"/><circle cx="164.1" cy="142.5" r="1.3"/><circle cx="124.0" cy="106.9" r="1.3"/><circle cx="126.5" cy="114.3" r="1.3"/><circle cx="127.9" cy="115.8" r="1.3"/><circle cx="129.2" cy="117.4" r="1.3"/><circle cx="128.0" cy="118.5" r="1.3"/><circle cx="130.4" cy="118.8" r="1.3"/><circle cx="129.6" cy="120.2" r="1.3"/><circle cx="132.3" cy="120.0" r="1.3"/><circle cx="131.4" cy="121.3" r="1.3"/><circle cx="134.1" cy="121.2" r="1.3"/><circle cx="133.2" cy="122.5" r="1.3"/><circle cx="137.2" cy="126.2" r="1.3"/><circle cx="139.6" cy="126.5" r="1.3"/><circle cx="139.5" cy="129.0" r="1.3"/><circle cx="125.9" cy="98.3" r="1.3"/><circle cx="133.7" cy="104.3" r="1.3"/><circle cx="135.3" cy="105.7" r="1.3"/><circle cx="137.0" cy="107.0" r="1.3"/><circle cx="141.1" cy="111.9" r="1.3"/><circle cx="143.5" cy="115.2" r="1.3"/><circle cx="144.6" cy="116.8" r="1.3"/><circle cx="146.8" cy="120.1" r="1.3"/><circle cx="121.3" cy="89.5" r="1.3"/><circle cx="114.1" cy="91.5" r="1.3"/><circle cx="117.0" cy="90.7" r="1.3"/><circle cx="119.4" cy="92.0" r="1.3"/><circle cx="122.0" cy="92.4" r="1.3"/><circle cx="113.1" cy="96.6" r="1.3"/><circle cx="112.4" cy="99.1" r="1.3"/><circle cx="115.0" cy="98.6" r="1.3"/><circle cx="118.0" cy="99.0" r="1.3"/><circle cx="121.1" cy="98.2" r="1.3"/><circle cx="114.3" cy="101.1" r="1.3"/><circle cx="117.9" cy="102.3" r="1.3"/><circle cx="119.3" cy="101.4" r="1.3"/><circle cx="123.4" cy="102.1" r="1.3"/><circle cx="130.0" cy="104.8" r="1.3"/><circle cx="132.0" cy="104.7" r="1.3"/><circle cx="128.6" cy="107.6" r="1.3"/><circle cx="130.9" cy="107.2" r="1.3"/><circle cx="129.9" cy="109.4" r="1.3"/><circle cx="131.7" cy="109.6" r="1.3"/><circle cx="128.3" cy="112.3" r="1.3"/><circle cx="130.6" cy="111.9" r="1.3"/><circle cx="126.5" cy="115.0" r="1.3"/><circle cx="129.4" cy="114.4" r="1.3"/><circle cx="137.3" cy="124.2" r="1.3"/><circle cx="142.9" cy="125.0" r="1.3"/><circle cx="138.7" cy="126.3" r="1.3"/><circle cx="141.3" cy="127.8" r="1.3"/><circle cx="144.7" cy="126.8" r="1.3"/><circle cx="137.2" cy="128.7" r="1.3"/><circle cx="140.2" cy="130.4" r="1.3"/><circle cx="143.7" cy="130.2" r="1.3"/><circle cx="140.4" cy="133.3" r="1.3"/><circle cx="144.7" cy="132.0" r="1.3"/><circle cx="196.5" cy="28.2" r="1.3"/><circle cx="170.6" cy="51.2" r="1.3"/><circle cx="165.6" cy="69.2" r="1.3"/><circle cx="158.2" cy="78.2" r="1.3"/><circle cx="160.9" cy="95.9" r="1.3"/><circle cx="174.6" cy="76.3" r="1.3"/></g>
<g fill="none" stroke="#000" stroke-width="1.25"><circle cx="411.3" cy="48.2" r="1.3"/><circle cx="421.4" cy="52.4" r="1.3"/><circle cx="444.4" cy="54.7" r="1.3"/><circle cx="443.8" cy="57.4" r="1.3"/><circle cx="448.9" cy="54.1" r="1.3"/><circle cx="450.5" cy="43.7" r="1.3"/><circle cx="490.8" cy="6.8" r="1.3"/><circle cx="491.9" cy="16.7" r="1.3"/><circle cx="498.6" cy="18.2" r="1.3"/><circle cx="487.8" cy="24.8" r="1.3"/><circle cx="510.3" cy="23.1" r="1.3"/><circle cx="509.9" cy="28.3" r="1.3"/><circle cx="497.6" cy="30.9" r="1.3"/><circle cx="499.2" cy="34.9" r="1.3"/><circle cx="495.9" cy="36.9" r="1.3"/><circle cx="487.1" cy="36.5" r="1.3"/><circle cx="487.8" cy="40.4" r="1.3"/><circle cx="466.7" cy="38.8" r="1.3"/><circle cx="483.6" cy="43.6" r="1.3"/><circle cx="486.9" cy="47.8" r="1.3"/><circle cx="470.8" cy="50.4" r="1.3"/><circle cx="473.4" cy="50.4" r="1.3"/><circle cx="458.7" cy="56.4" r="1.3"/><circle cx="480.0" cy="57.1" r="1.3"/><circle cx="484.1" cy="56.3" r="1.3"/><circle cx="506.0" cy="52.1" r="1.3"/><circle cx="505.4" cy="54.5" r="1.3"/><circle cx="503.2" cy="56.3" r="1.3"/><circle cx="392.4" cy="125.0" r="1.3"/><circle cx="396.5" cy="123.3" r="1.3"/><circle cx="398.3" cy="124.2" r="1.3"/><circle cx="400.7" cy="125.9" r="1.3"/><circle cx="405.4" cy="123.0" r="1.3"/><circle cx="428.5" cy="125.0" r="1.3"/><circle cx="394.7" cy="133.9" r="1.3"/><circle cx="391.4" cy="140.1" r="1.3"/><circle cx="407.5" cy="143.2" r="1.3"/><circle cx="395.9" cy="120.3" r="1.3"/><circle cx="393.5" cy="122.1" r="1.3"/><circle cx="390.6" cy="123.9" r="1.3"/><circle cx="352.1" cy="172.2" r="1.3"/><circle cx="387.2" cy="148.3" r="1.3"/><circle cx="381.4" cy="137.2" r="1.3"/><circle cx="361.7" cy="63.8" r="1.3"/><circle cx="372.8" cy="64.7" r="1.3"/><circle cx="381.5" cy="66.5" r="1.3"/><circle cx="382.1" cy="68.3" r="1.3"/><circle cx="388.6" cy="68.9" r="1.3"/><circle cx="388.0" cy="71.8" r="1.3"/><circle cx="387.4" cy="74.8" r="1.3"/><circle cx="387.0" cy="79.5" r="1.3"/><circle cx="346.0" cy="70.3" r="1.3"/><circle cx="351.5" cy="71.5" r="1.3"/><circle cx="338.0" cy="71.8" r="1.3"/><circle cx="340.1" cy="74.8" r="1.3"/><circle cx="355.4" cy="77.2" r="1.3"/><circle cx="370.2" cy="74.0" r="1.3"/><circle cx="365.5" cy="78.9" r="1.3"/><circle cx="380.3" cy="77.8" r="1.3"/><circle cx="344.0" cy="81.1" r="1.3"/><circle cx="342.4" cy="84.3" r="1.3"/><circle cx="337.3" cy="87.2" r="1.3"/><circle cx="343.3" cy="86.6" r="1.3"/><circle cx="348.3" cy="85.4" r="1.3"/><circle cx="351.9" cy="84.9" r="1.3"/><circle cx="357.0" cy="84.6" r="1.3"/><circle cx="346.0" cy="88.4" r="1.3"/><circle cx="349.5" cy="88.4" r="1.3"/><circle cx="353.1" cy="88.0" r="1.3"/><circle cx="351.9" cy="90.2" r="1.3"/><circle cx="370.8" cy="86.3" r="1.3"/><circle cx="369.6" cy="88.4" r="1.3"/><circle cx="367.3" cy="89.0" r="1.3"/><circle cx="359.0" cy="91.1" r="1.3"/><circle cx="380.9" cy="83.1" r="1.3"/><circle cx="382.7" cy="85.4" r="1.3"/><circle cx="384.2" cy="87.0" r="1.3"/><circle cx="389.2" cy="89.0" r="1.3"/><circle cx="341.2" cy="91.7" r="1.3"/><circle cx="338.5" cy="95.3" r="1.3"/><circle cx="342.4" cy="95.5" r="1.3"/><circle cx="349.5" cy="93.4" r="1.3"/><circle cx="348.9" cy="95.5" r="1.3"/><circle cx="358.2" cy="95.5" r="1.3"/><circle cx="366.7" cy="93.7" r="1.3"/><circle cx="375.6" cy="94.9" r="1.3"/><circle cx="376.7" cy="97.9" r="1.3"/><circle cx="382.7" cy="92.9" r="1.3"/><circle cx="388.0" cy="96.1" r="1.3"/><circle cx="385.0" cy="98.5" r="1.3"/><circle cx="398.9" cy="61.8" r="1.3"/><circle cx="407.2" cy="62.1" r="1.3"/><circle cx="404.0" cy="68.9" r="1.3"/><circle cx="400.7" cy="74.0" r="1.3"/><circle cx="397.3" cy="77.2" r="1.3"/><circle cx="392.1" cy="76.6" r="1.3"/><circle cx="407.5" cy="74.8" r="1.3"/><circle cx="391.8" cy="83.7" r="1.3"/><circle cx="404.4" cy="81.5" r="1.3"/><circle cx="408.9" cy="83.7" r="1.3"/><circle cx="407.5" cy="85.4" r="1.3"/><circle cx="390.7" cy="89.3" r="1.3"/><circle cx="395.0" cy="88.9" r="1.3"/><circle cx="396.6" cy="87.9" r="1.3"/><circle cx="401.8" cy="89.0" r="1.3"/><circle cx="408.3" cy="88.4" r="1.3"/><circle cx="410.7" cy="91.0" r="1.3"/><circle cx="411.9" cy="92.0" r="1.3"/><circle cx="394.7" cy="95.3" r="1.3"/><circle cx="401.2" cy="94.3" r="1.3"/><circle cx="398.9" cy="97.3" r="1.3"/><circle cx="401.8" cy="97.9" r="1.3"/><circle cx="404.2" cy="99.1" r="1.3"/><circle cx="405.4" cy="100.8" r="1.3"/><circle cx="403.0" cy="100.8" r="1.3"/><circle cx="400.7" cy="102.0" r="1.3"/><circle cx="397.7" cy="101.4" r="1.3"/><circle cx="395.3" cy="102.0" r="1.3"/><circle cx="392.4" cy="103.8" r="1.3"/><circle cx="391.8" cy="100.8" r="1.3"/><circle cx="390.6" cy="97.9" r="1.3"/><circle cx="394.7" cy="107.9" r="1.3"/><circle cx="393.6" cy="111.5" r="1.3"/><circle cx="399.5" cy="110.9" r="1.3"/><circle cx="398.9" cy="114.4" r="1.3"/><circle cx="402.4" cy="112.7" r="1.3"/><circle cx="404.2" cy="115.6" r="1.3"/><circle cx="401.2" cy="115.6" r="1.3"/><circle cx="396.5" cy="118.0" r="1.3"/><circle cx="399.5" cy="118.0" r="1.3"/><circle cx="406.6" cy="115.6" r="1.3"/><circle cx="404.2" cy="106.7" r="1.3"/><circle cx="400.1" cy="106.2" r="1.3"/><circle cx="409.5" cy="97.6" r="1.3"/><circle cx="411.3" cy="102.6" r="1.3"/><circle cx="410.7" cy="106.7" r="1.3"/><circle cx="413.7" cy="105.6" r="1.3"/><circle cx="415.4" cy="107.3" r="1.3"/><circle cx="417.2" cy="105.6" r="1.3"/><circle cx="419.0" cy="106.7" r="1.3"/><circle cx="421.4" cy="105.6" r="1.3"/><circle cx="422.0" cy="102.0" r="1.3"/><circle cx="423.1" cy="105.0" r="1.3"/><circle cx="414.9" cy="96.7" r="1.3"/><circle cx="416.0" cy="97.9" r="1.3"/><circle cx="418.4" cy="94.9" r="1.3"/><circle cx="419.6" cy="97.9" r="1.3"/><circle cx="422.0" cy="97.3" r="1.3"/><circle cx="415.4" cy="112.7" r="1.3"/><circle cx="413.1" cy="113.8" r="1.3"/><circle cx="417.8" cy="113.3" r="1.3"/><circle cx="419.0" cy="114.4" r="1.3"/><circle cx="415.4" cy="118.0" r="1.3"/><circle cx="428.5" cy="115.0" r="1.3"/><circle cx="426.1" cy="66.5" r="1.3"/><circle cx="424.3" cy="72.4" r="1.3"/><circle cx="419.6" cy="75.4" r="1.3"/><circle cx="422.0" cy="80.1" r="1.3"/><circle cx="418.4" cy="82.2" r="1.3"/><circle cx="419.6" cy="84.9" r="1.3"/><circle cx="418.4" cy="88.4" r="1.3"/><circle cx="425.5" cy="86.0" r="1.3"/><circle cx="427.9" cy="84.9" r="1.3"/><circle cx="429.6" cy="83.4" r="1.3"/><circle cx="430.8" cy="89.0" r="1.3"/><circle cx="427.9" cy="77.5" r="1.3"/><circle cx="430.2" cy="76.6" r="1.3"/><circle cx="431.4" cy="72.4" r="1.3"/><circle cx="433.2" cy="78.3" r="1.3"/><circle cx="435.6" cy="80.7" r="1.3"/><circle cx="436.7" cy="81.9" r="1.3"/><circle cx="438.5" cy="86.6" r="1.3"/><circle cx="442.1" cy="84.9" r="1.3"/><circle cx="442.1" cy="71.8" r="1.3"/><circle cx="445.0" cy="64.5" r="1.3"/><circle cx="437.3" cy="63.0" r="1.3"/><circle cx="445.6" cy="67.7" r="1.3"/><circle cx="448.0" cy="70.7" r="1.3"/><circle cx="448.6" cy="81.9" r="1.3"/><circle cx="444.4" cy="93.1" r="1.3"/><circle cx="445.6" cy="101.4" r="1.3"/><circle cx="444.4" cy="103.2" r="1.3"/><circle cx="449.8" cy="99.1" r="1.3"/><circle cx="448.6" cy="105.6" r="1.3"/><circle cx="433.2" cy="106.2" r="1.3"/><circle cx="432.0" cy="108.5" r="1.3"/><circle cx="440.7" cy="107.9" r="1.3"/><circle cx="430.2" cy="99.6" r="1.3"/><circle cx="435.0" cy="60.6" r="1.3"/><circle cx="391.2" cy="118.0" r="1.3"/><circle cx="455.0" cy="62.0" r="1.3"/><circle cx="480.2" cy="61.3" r="1.3"/><circle cx="473.4" cy="65.2" r="1.3"/><circle cx="476.1" cy="69.1" r="1.3"/><circle cx="498.2" cy="68.9" r="1.3"/><circle cx="465.4" cy="72.0" r="1.3"/><circle cx="473.7" cy="73.7" r="1.3"/><circle cx="458.5" cy="76.7" r="1.3"/><circle cx="454.6" cy="78.2" r="1.3"/><circle cx="453.3" cy="79.3" r="1.3"/><circle cx="474.5" cy="83.4" r="1.3"/><circle cx="463.7" cy="89.7" r="1.3"/><circle cx="457.2" cy="91.0" r="1.3"/><circle cx="480.6" cy="93.6" r="1.3"/><circle cx="456.5" cy="97.1" r="1.3"/><circle cx="454.6" cy="98.8" r="1.3"/><circle cx="386.4" cy="96.6" r="1.3"/><circle cx="376.5" cy="100.5" r="1.3"/><circle cx="379.3" cy="101.3" r="1.3"/><circle cx="382.5" cy="102.1" r="1.3"/><circle cx="385.2" cy="100.9" r="1.3"/><circle cx="388.0" cy="100.5" r="1.3"/><circle cx="375.0" cy="102.9" r="1.3"/><circle cx="384.0" cy="104.5" r="1.3"/><circle cx="386.4" cy="105.3" r="1.3"/><circle cx="389.6" cy="104.1" r="1.3"/><circle cx="374.6" cy="108.0" r="1.3"/><circle cx="386.0" cy="109.2" r="1.3"/><circle cx="382.5" cy="111.2" r="1.3"/><circle cx="374.6" cy="112.0" r="1.3"/><circle cx="376.9" cy="113.5" r="1.3"/><circle cx="380.9" cy="113.1" r="1.3"/><circle cx="383.2" cy="115.1" r="1.3"/><circle cx="378.1" cy="116.3" r="1.3"/><circle cx="376.1" cy="117.9" r="1.3"/><circle cx="378.5" cy="118.7" r="1.3"/><circle cx="380.9" cy="117.5" r="1.3"/><circle cx="383.2" cy="118.3" r="1.3"/><circle cx="375.0" cy="120.6" r="1.3"/><circle cx="377.7" cy="121.0" r="1.3"/><circle cx="381.7" cy="120.2" r="1.3"/><circle cx="384.0" cy="121.0" r="1.3"/><circle cx="386.4" cy="119.5" r="1.3"/><circle cx="389.6" cy="117.9" r="1.3"/><circle cx="389.6" cy="120.2" r="1.3"/><circle cx="388.0" cy="122.2" r="1.3"/><circle cx="376.1" cy="123.4" r="1.3"/><circle cx="378.5" cy="124.2" r="1.3"/><circle cx="381.7" cy="123.4" r="1.3"/><circle cx="383.2" cy="125.0" r="1.3"/><circle cx="380.1" cy="126.6" r="1.3"/><circle cx="376.1" cy="129.7" r="1.3"/><circle cx="378.5" cy="130.5" r="1.3"/><circle cx="380.9" cy="128.9" r="1.3"/><circle cx="382.1" cy="127.7" r="1.3"/><circle cx="377.3" cy="131.7" r="1.3"/><circle cx="338.8" cy="97.2" r="1.3"/><circle cx="337.5" cy="103.4" r="1.3"/><circle cx="340.1" cy="103.0" r="1.3"/><circle cx="337.0" cy="106.4" r="1.3"/><circle cx="340.1" cy="106.1" r="1.3"/><circle cx="337.4" cy="109.8" r="1.3"/><circle cx="339.6" cy="109.7" r="1.3"/><circle cx="337.6" cy="112.9" r="1.3"/><circle cx="340.6" cy="112.9" r="1.3"/><circle cx="338.5" cy="115.0" r="1.3"/><circle cx="344.4" cy="99.3" r="1.3"/><circle cx="346.6" cy="98.6" r="1.3"/><circle cx="349.3" cy="100.3" r="1.3"/><circle cx="342.7" cy="102.1" r="1.3"/><circle cx="346.1" cy="101.9" r="1.3"/><circle cx="351.6" cy="102.2" r="1.3"/><circle cx="344.2" cy="104.9" r="1.3"/><circle cx="346.8" cy="104.6" r="1.3"/><circle cx="350.0" cy="104.8" r="1.3"/><circle cx="353.3" cy="105.7" r="1.3"/><circle cx="342.7" cy="109.6" r="1.3"/><circle cx="346.0" cy="110.4" r="1.3"/><circle cx="349.2" cy="109.3" r="1.3"/><circle cx="352.5" cy="109.6" r="1.3"/><circle cx="343.9" cy="112.8" r="1.3"/><circle cx="346.7" cy="113.0" r="1.3"/><circle cx="349.5" cy="112.7" r="1.3"/><circle cx="353.3" cy="113.1" r="1.3"/><circle cx="343.4" cy="115.3" r="1.3"/><circle cx="346.2" cy="115.6" r="1.3"/><circle cx="349.1" cy="115.5" r="1.3"/><circle cx="352.3" cy="116.4" r="1.3"/><circle cx="357.8" cy="97.6" r="1.3"/><circle cx="365.4" cy="97.4" r="1.3"/><circle cx="369.9" cy="97.5" r="1.3"/><circle cx="365.7" cy="99.8" r="1.3"/><circle cx="368.7" cy="100.7" r="1.3"/><circle cx="355.2" cy="103.0" r="1.3"/><circle cx="357.6" cy="101.2" r="1.3"/><circle cx="360.6" cy="101.5" r="1.3"/><circle cx="361.9" cy="102.2" r="1.3"/><circle cx="356.4" cy="105.5" r="1.3"/><circle cx="359.4" cy="104.3" r="1.3"/><circle cx="361.7" cy="105.0" r="1.3"/><circle cx="363.4" cy="106.7" r="1.3"/><circle cx="355.7" cy="106.7" r="1.3"/><circle cx="358.0" cy="106.4" r="1.3"/><circle cx="360.4" cy="107.4" r="1.3"/><circle cx="365.1" cy="108.4" r="1.3"/><circle cx="355.9" cy="110.5" r="1.3"/><circle cx="359.4" cy="109.5" r="1.3"/><circle cx="362.8" cy="110.4" r="1.3"/><circle cx="362.7" cy="112.3" r="1.3"/><circle cx="370.0" cy="102.3" r="1.3"/><circle cx="372.5" cy="103.4" r="1.3"/><circle cx="369.4" cy="105.4" r="1.3"/><circle cx="371.3" cy="105.8" r="1.3"/><circle cx="372.9" cy="104.8" r="1.3"/><circle cx="370.2" cy="107.4" r="1.3"/><circle cx="372.2" cy="107.1" r="1.3"/><circle cx="371.2" cy="109.4" r="1.3"/><circle cx="368.9" cy="112.3" r="1.3"/><circle cx="371.7" cy="112.9" r="1.3"/><circle cx="357.4" cy="114.9" r="1.3"/><circle cx="361.2" cy="114.5" r="1.3"/><circle cx="370.4" cy="115.1" r="1.3"/><circle cx="339.9" cy="116.6" r="1.3"/><circle cx="343.3" cy="117.5" r="1.3"/><circle cx="346.0" cy="117.0" r="1.3"/><circle cx="336.8" cy="119.2" r="1.3"/><circle cx="339.0" cy="120.0" r="1.3"/><circle cx="342.5" cy="119.1" r="1.3"/><circle cx="345.5" cy="119.0" r="1.3"/><circle cx="348.5" cy="120.0" r="1.3"/><circle cx="351.9" cy="119.7" r="1.3"/><circle cx="335.8" cy="124.4" r="1.3"/><circle cx="338.7" cy="124.8" r="1.3"/><circle cx="342.0" cy="124.8" r="1.3"/><circle cx="344.8" cy="124.2" r="1.3"/><circle cx="348.3" cy="125.0" r="1.3"/><circle cx="351.4" cy="124.8" r="1.3"/><circle cx="353.8" cy="124.7" r="1.3"/><circle cx="342.7" cy="128.0" r="1.3"/><circle cx="351.9" cy="127.5" r="1.3"/><circle cx="354.7" cy="116.6" r="1.3"/><circle cx="357.7" cy="117.0" r="1.3"/><circle cx="361.2" cy="117.1" r="1.3"/><circle cx="356.8" cy="119.7" r="1.3"/><circle cx="360.4" cy="119.5" r="1.3"/><circle cx="354.5" cy="121.6" r="1.3"/><circle cx="357.3" cy="121.2" r="1.3"/><circle cx="360.0" cy="122.3" r="1.3"/><circle cx="356.3" cy="124.7" r="1.3"/><circle cx="358.1" cy="124.2" r="1.3"/><circle cx="354.0" cy="126.8" r="1.3"/><circle cx="365.8" cy="119.5" r="1.3"/><circle cx="367.7" cy="119.0" r="1.3"/><circle cx="370.7" cy="117.1" r="1.3"/><circle cx="361.3" cy="126.2" r="1.3"/><circle cx="362.4" cy="127.7" r="1.3"/><circle cx="358.6" cy="130.2" r="1.3"/><circle cx="354.4" cy="131.9" r="1.3"/><circle cx="356.0" cy="130.9" r="1.3"/><circle cx="368.6" cy="126.6" r="1.3"/><circle cx="369.1" cy="130.4" r="1.3"/><circle cx="372.0" cy="126.3" r="1.3"/><circle cx="372.9" cy="124.2" r="1.3"/><circle cx="373.8" cy="129.1" r="1.3"/><circle cx="370.6" cy="127.8" r="1.3"/><circle cx="357.5" cy="135.3" r="1.3"/><circle cx="364.2" cy="135.0" r="1.3"/><circle cx="337.2" cy="130.9" r="1.3"/><circle cx="340.0" cy="131.0" r="1.3"/><circle cx="343.0" cy="131.3" r="1.3"/><circle cx="336.2" cy="135.9" r="1.3"/><circle cx="339.6" cy="135.2" r="1.3"/><circle cx="342.7" cy="136.1" r="1.3"/><circle cx="336.8" cy="139.0" r="1.3"/><circle cx="339.5" cy="139.2" r="1.3"/><circle cx="344.6" cy="138.7" r="1.3"/><circle cx="337.9" cy="143.2" r="1.3"/><circle cx="340.4" cy="145.2" r="1.3"/><circle cx="348.1" cy="131.1" r="1.3"/><circle cx="351.4" cy="131.8" r="1.3"/><circle cx="349.6" cy="136.6" r="1.3"/><circle cx="346.8" cy="133.5" r="1.3"/><circle cx="362.3" cy="137.8" r="1.3"/><circle cx="362.6" cy="139.1" r="1.3"/><circle cx="357.1" cy="147.0" r="1.3"/><circle cx="337.8" cy="105.8" r="1.3"/><circle cx="340.8" cy="106.3" r="1.3"/><circle cx="339.7" cy="108.1" r="1.3"/><circle cx="338.3" cy="109.7" r="1.3"/><circle cx="340.5" cy="110.9" r="1.3"/><circle cx="339.9" cy="112.1" r="1.3"/><circle cx="337.1" cy="115.3" r="1.3"/><circle cx="341.3" cy="115.0" r="1.3"/><circle cx="343.0" cy="100.6" r="1.3"/><circle cx="346.6" cy="101.4" r="1.3"/><circle cx="349.0" cy="100.8" r="1.3"/><circle cx="352.2" cy="101.9" r="1.3"/><circle cx="345.1" cy="104.0" r="1.3"/><circle cx="348.1" cy="103.6" r="1.3"/><circle cx="350.6" cy="104.0" r="1.3"/><circle cx="352.5" cy="103.8" r="1.3"/><circle cx="343.2" cy="109.1" r="1.3"/><circle cx="345.4" cy="108.7" r="1.3"/><circle cx="343.4" cy="111.1" r="1.3"/><circle cx="347.2" cy="111.3" r="1.3"/><circle cx="349.5" cy="110.9" r="1.3"/><circle cx="352.7" cy="111.5" r="1.3"/><circle cx="342.5" cy="113.3" r="1.3"/><circle cx="345.4" cy="112.7" r="1.3"/><circle cx="347.5" cy="113.9" r="1.3"/><circle cx="352.0" cy="113.7" r="1.3"/><circle cx="357.3" cy="102.3" r="1.3"/><circle cx="360.6" cy="101.6" r="1.3"/><circle cx="355.9" cy="104.7" r="1.3"/><circle cx="358.8" cy="103.9" r="1.3"/><circle cx="361.1" cy="104.0" r="1.3"/><circle cx="355.3" cy="105.5" r="1.3"/><circle cx="357.8" cy="106.9" r="1.3"/><circle cx="360.7" cy="106.8" r="1.3"/><circle cx="363.4" cy="106.4" r="1.3"/><circle cx="356.0" cy="108.7" r="1.3"/><circle cx="358.0" cy="109.4" r="1.3"/><circle cx="361.6" cy="108.3" r="1.3"/><circle cx="354.5" cy="111.2" r="1.3"/><circle cx="357.1" cy="110.9" r="1.3"/><circle cx="360.2" cy="111.4" r="1.3"/><circle cx="363.1" cy="111.1" r="1.3"/><circle cx="338.4" cy="124.2" r="1.3"/><circle cx="342.6" cy="124.5" r="1.3"/><circle cx="337.1" cy="127.2" r="1.3"/><circle cx="340.8" cy="125.8" r="1.3"/><circle cx="342.6" cy="125.7" r="1.3"/><circle cx="336.5" cy="128.7" r="1.3"/><circle cx="338.3" cy="129.4" r="1.3"/><circle cx="341.7" cy="128.4" r="1.3"/><circle cx="344.4" cy="129.2" r="1.3"/><circle cx="336.9" cy="131.4" r="1.3"/><circle cx="340.9" cy="131.7" r="1.3"/><circle cx="343.2" cy="131.7" r="1.3"/><circle cx="338.9" cy="133.8" r="1.3"/><circle cx="341.3" cy="135.1" r="1.3"/><circle cx="337.7" cy="137.6" r="1.3"/><circle cx="339.6" cy="136.1" r="1.3"/><circle cx="342.9" cy="137.4" r="1.3"/><circle cx="342.3" cy="116.6" r="1.3"/><circle cx="344.5" cy="117.4" r="1.3"/><circle cx="348.5" cy="116.5" r="1.3"/><circle cx="350.5" cy="116.8" r="1.3"/><circle cx="353.8" cy="116.6" r="1.3"/><circle cx="340.2" cy="119.3" r="1.3"/><circle cx="342.7" cy="118.7" r="1.3"/><circle cx="347.3" cy="119.8" r="1.3"/><circle cx="349.2" cy="119.7" r="1.3"/><circle cx="352.2" cy="119.9" r="1.3"/><circle cx="356.1" cy="119.4" r="1.3"/><circle cx="358.6" cy="118.0" r="1.3"/><circle cx="354.7" cy="122.0" r="1.3"/><circle cx="357.4" cy="121.2" r="1.3"/><circle cx="359.8" cy="120.9" r="1.3"/><circle cx="358.4" cy="123.2" r="1.3"/><circle cx="429.0" cy="99.5" r="1.3"/><circle cx="430.6" cy="99.6" r="1.3"/><circle cx="410.6" cy="91.0" r="1.3"/><circle cx="411.4" cy="91.8" r="1.3"/><circle cx="435.3" cy="81.4" r="1.3"/><circle cx="436.0" cy="82.1" r="1.3"/><circle cx="454.0" cy="78.0" r="1.3"/><circle cx="412.0" cy="113.3" r="1.3"/><circle cx="403.0" cy="98.8" r="1.3"/><circle cx="375.4" cy="95.4" r="1.3"/><circle cx="387.2" cy="108.4" r="1.3"/><circle cx="390.8" cy="117.9" r="1.3"/></g>
</svg></body></html>
